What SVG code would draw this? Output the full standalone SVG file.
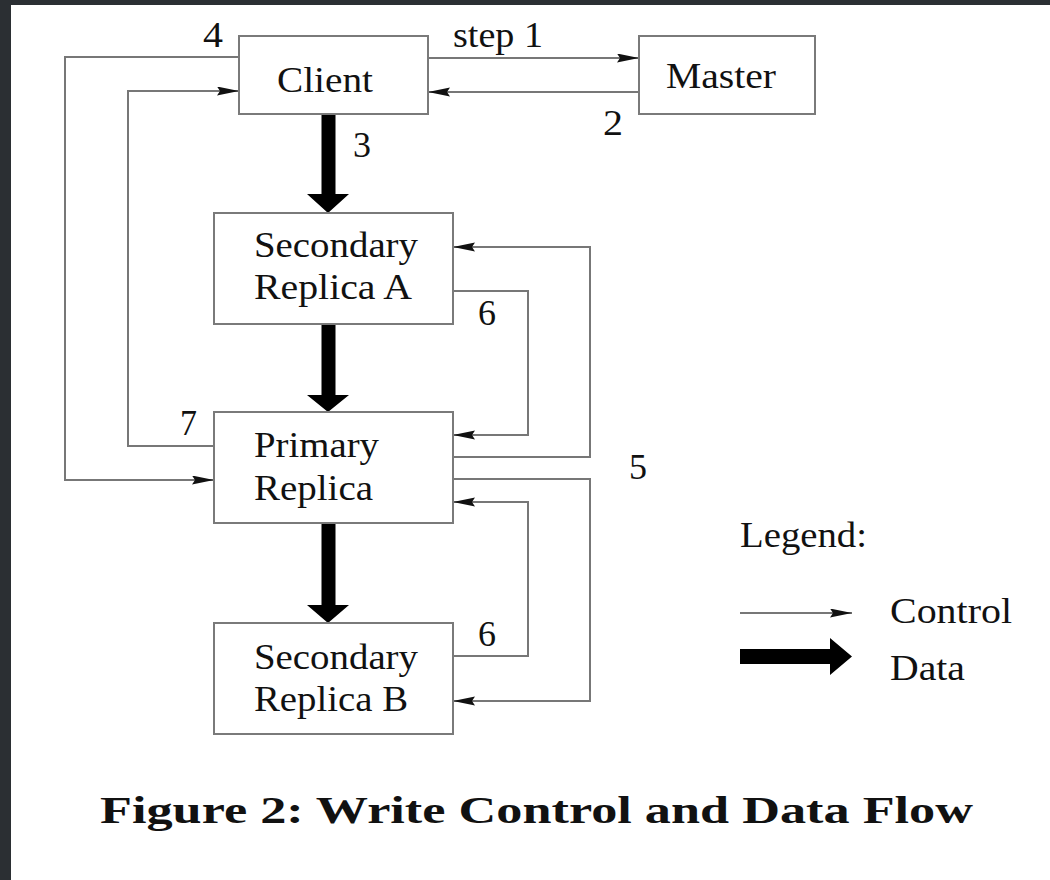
<svg xmlns="http://www.w3.org/2000/svg" width="1050" height="880" viewBox="0 0 1050 880">
<style>
.box{fill:#fff;stroke:#7a7a7a;stroke-width:2}
.ln{fill:none;stroke:#777;stroke-width:2}
.t{font-family:"Liberation Serif","Times New Roman",serif;font-size:35px;fill:#111}
.d{fill:#000}
.cap{font-family:"Liberation Serif","Times New Roman",serif;font-size:38px;font-weight:bold;fill:#111}
</style>
<defs>
<marker id="ah" markerUnits="userSpaceOnUse" markerWidth="24" markerHeight="10" refX="22" refY="4.5" orient="auto">
<path d="M0,0 L22,4.5 L0,9 L3,4.5 z" fill="#111"/>
</marker>
</defs>
<rect x="0" y="0" width="1050" height="880" fill="#fff"/>
<rect x="0" y="0" width="1050" height="5" fill="#2b2f33"/>
<rect x="0" y="0" width="11" height="880" fill="#2b2f33"/>

<g id="connectors">
<path class="ln" d="M428,58 H639" marker-end="url(#ah)"/>
<path class="ln" d="M639,92 H428" marker-end="url(#ah)"/>
<path class="ln" d="M239,57 H65 V480 H214" marker-end="url(#ah)"/>
<path class="ln" d="M214,446 H128 V91 H239" marker-end="url(#ah)"/>
<path class="ln" d="M453,457 H590 V247 H453" marker-end="url(#ah)"/>
<path class="ln" d="M453,291 H528 V435 H453" marker-end="url(#ah)"/>
<path class="ln" d="M453,479 H590 V701 H453" marker-end="url(#ah)"/>
<path class="ln" d="M453,656 H528 V502 H453" marker-end="url(#ah)"/>
<polygon class="d" points="321.5,114 335.5,114 335.5,194 349,194 328,213 307,194 321.5,194"/>
<polygon class="d" points="321.5,324 335.5,324 335.5,395 349,395 328,412 307,395 321.5,395"/>
<polygon class="d" points="321.5,523 335.5,523 335.5,605 349,605 328,623 307,605 321.5,605"/>
<text class="t" x="453" y="47" font-size="30" textLength="90" lengthAdjust="spacingAndGlyphs">step 1</text>
<text class="t" x="603" y="135" textLength="20" lengthAdjust="spacingAndGlyphs">2</text>
<text class="t" x="203" y="47" textLength="20" lengthAdjust="spacingAndGlyphs">4</text>
<text class="t" x="353" y="157" textLength="18" lengthAdjust="spacingAndGlyphs">3</text>
<text class="t" x="478" y="325" textLength="18" lengthAdjust="spacingAndGlyphs">6</text>
<text class="t" x="180" y="435" textLength="17" lengthAdjust="spacingAndGlyphs">7</text>
<text class="t" x="629" y="479" textLength="18" lengthAdjust="spacingAndGlyphs">5</text>
<text class="t" x="478" y="646" textLength="18" lengthAdjust="spacingAndGlyphs">6</text>
</g>

<g id="client">
<rect class="box" x="239" y="36" width="189" height="78"/>
<text class="t" x="277" y="92" textLength="96" lengthAdjust="spacingAndGlyphs">Client</text>
</g>
<g id="master">
<rect class="box" x="639" y="36" width="176" height="78"/>
<text class="t" x="666" y="88" textLength="110" lengthAdjust="spacingAndGlyphs">Master</text>
</g>
<g id="secondary-a">
<rect class="box" x="214" y="213" width="239" height="111"/>
<text class="t" x="254" y="257" textLength="164" lengthAdjust="spacingAndGlyphs">Secondary</text>
<text class="t" x="254" y="299" textLength="158" lengthAdjust="spacingAndGlyphs">Replica A</text>
</g>
<g id="primary">
<rect class="box" x="214" y="412" width="239" height="111"/>
<text class="t" x="254" y="457" textLength="125" lengthAdjust="spacingAndGlyphs">Primary</text>
<text class="t" x="254" y="500" textLength="119" lengthAdjust="spacingAndGlyphs">Replica</text>
</g>
<g id="secondary-b">
<rect class="box" x="214" y="623" width="239" height="111"/>
<text class="t" x="254" y="669" textLength="164" lengthAdjust="spacingAndGlyphs">Secondary</text>
<text class="t" x="254" y="711" textLength="154" lengthAdjust="spacingAndGlyphs">Replica B</text>
</g>

<g id="legend">
<text class="t" x="740" y="547" textLength="127" lengthAdjust="spacingAndGlyphs">Legend:</text>
<path class="ln" d="M740,613 H852" stroke="#222" stroke-width="1.5" marker-end="url(#ah)"/>
<text class="t" x="890" y="623" textLength="122" lengthAdjust="spacingAndGlyphs">Control</text>
<polygon class="d" points="740,649 830,649 830,638 852,656.5 830,675 830,664 740,664"/>
<text class="t" x="890" y="680" textLength="75" lengthAdjust="spacingAndGlyphs">Data</text>
</g>

<text class="cap" x="100" y="823" textLength="873" lengthAdjust="spacingAndGlyphs">Figure 2:  Write Control and Data Flow</text>
</svg>
